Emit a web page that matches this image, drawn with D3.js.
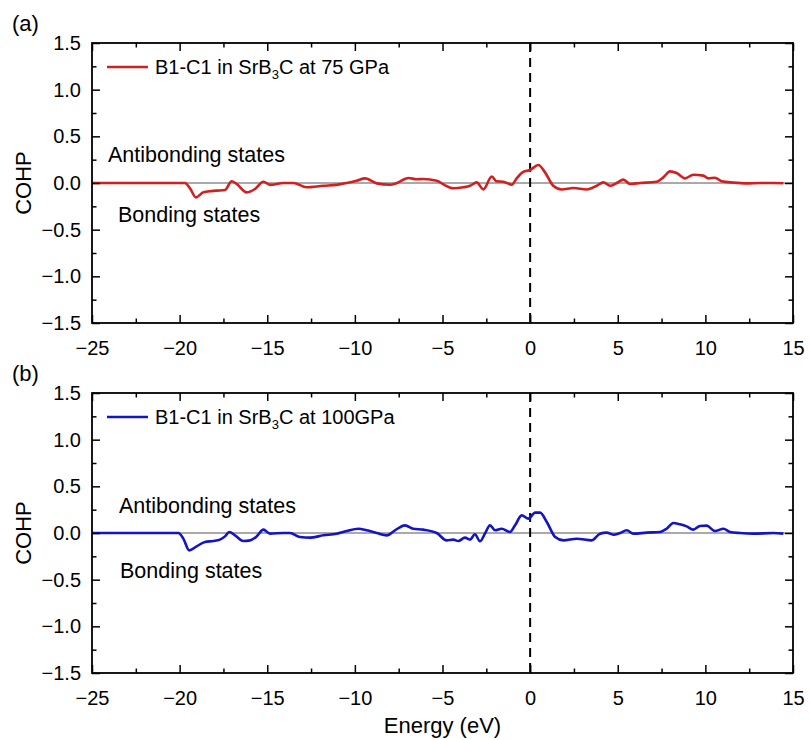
<!DOCTYPE html>
<html>
<head>
<meta charset="utf-8">
<script src="https://cdn.jsdelivr.net/npm/d3@7"></script>
<style>
  body { margin: 0; background: #fff; }
  svg { display: block; font-family: "Liberation Sans", Arial, sans-serif; }
</style>
</head>
<body>
<svg id="chart" width="810" height="740"></svg>
<script>
// ---- Data ----
const energy75 = [-25, -19.7, -19.4, -19.07, -18.65, -17.9, -17.41, -17.03, -16.75, -16.17, -15.7, -15.22, -14.84, -14.08, -13.51, -12.75, -11.8, -11.04, -10.47, -9.9, -9.42, -8.75, -8.0, -7.6, -6.95, -6.47, -6.1, -5.33, -4.9, -4.38, -3.81, -3.43, -3.05, -2.67, -2.19, -1.91, -1.53, -1.05, -0.77, -0.39, 0.0, 0.47, 0.85, 1.32, 1.80, 2.47, 3.23, 3.80, 4.18, 4.56, 4.94, 5.32, 5.70, 6.27, 7.22, 7.60, 7.98, 8.36, 8.84, 9.31, 9.88, 10.17, 10.55, 10.93, 11.6, 12.36, 13.12, 13.88, 14.45];
const cohp75   = [0, 0, -0.06, -0.154, -0.10, -0.082, -0.075, 0.018, -0.01, -0.10, -0.064, 0.014, -0.02, 0, 0, -0.046, -0.03, -0.02, 0, 0.025, 0.05, -0.004, -0.018, 0, 0.054, 0.04, 0.043, 0.025, -0.02, -0.057, -0.046, -0.03, 0.007, -0.068, 0.07, 0.018, 0.014, -0.018, 0.05, 0.12, 0.14, 0.193, 0.114, -0.03, -0.07, -0.054, -0.07, -0.03, 0.007, -0.03, 0, 0.036, -0.01, 0, 0.014, 0.06, 0.125, 0.107, 0.05, 0.089, 0.079, 0.05, 0.057, 0.018, 0.004, -0.004, 0, 0, -0.003];

const energy100 = [-25, -20.07, -19.79, -19.45, -19.03, -18.55, -18.08, -17.70, -17.41, -17.17, -16.84, -16.37, -15.98, -15.6, -15.22, -14.84, -14.08, -13.7, -13.13, -12.56, -11.8, -11.04, -10.47, -9.80, -9.33, -8.75, -8.18, -7.71, -7.14, -6.67, -6.1, -5.33, -4.76, -4.38, -4.10, -3.72, -3.43, -3.15, -2.86, -2.58, -2.29, -2.0, -1.62, -1.15, -0.86, -0.48, -0.10, 0.29, 0.57, 0.95, 1.43, 1.90, 2.66, 3.52, 3.99, 4.37, 4.75, 5.13, 5.51, 5.89, 6.65, 7.41, 7.79, 8.17, 8.55, 8.93, 9.31, 9.69, 10.07, 10.55, 11.03, 11.41, 11.98, 12.74, 13.88, 14.45];
const cohp100   = [0, 0, -0.06, -0.186, -0.143, -0.096, -0.086, -0.071, -0.036, 0.011, -0.025, -0.086, -0.079, -0.036, 0.036, -0.007, 0, 0, -0.043, -0.05, -0.025, -0.007, 0.021, 0.046, 0.029, 0, -0.025, 0.029, 0.082, 0.046, 0.036, 0, -0.079, -0.071, -0.086, -0.05, -0.071, -0.014, -0.089, -0.007, 0.082, 0.029, 0.046, 0.011, 0.082, 0.189, 0.154, 0.218, 0.218, 0.118, -0.043, -0.079, -0.061, -0.079, -0.007, 0.004, -0.018, 0, 0.029, -0.007, 0.004, 0.011, 0.046, 0.107, 0.093, 0.071, 0.036, 0.075, 0.079, 0.021, 0.046, 0.011, 0, -0.007, 0, -0.007];

const xTicks = [-25, -20, -15, -10, -5, 0, 5, 10, 15];
const xMinorTicks = [-22.5, -17.5, -12.5, -7.5, -2.5, 2.5, 7.5, 12.5];
const yTicks = [-1.5, -1.0, -0.5, 0.0, 0.5, 1.0, 1.5];
const yMinorTicks = [-1.25, -0.75, -0.25, 0.25, 0.75, 1.25];

const panels = [
  { tag: "(a)", top: 43, energy: energy75, cohp: cohp75, color: "#d21f1f",
    legendMain: "B1-C1 in SrB", legendSub: "3", legendTail: "C at 75 GPa",
    antiY: 162, antiX: 108, bondY: 222, bondX: 118 },
  { tag: "(b)", top: 393, energy: energy100, cohp: cohp100, color: "#1414c4",
    legendMain: "B1-C1 in SrB", legendSub: "3", legendTail: "C at 100GPa",
    antiY: 513, antiX: 119, bondY: 578, bondX: 120 }
];

const svg = d3.select("#chart");
const left = 92, right = 793, ph = 280;
const x = d3.scaleLinear().domain([-25, 15]).range([left, right]);

panels.forEach((p, i) => {
  const y = d3.scaleLinear().domain([-1.5, 1.5]).range([p.top + ph, p.top]);
  const g = svg.append("g");

  // zero line
  g.append("line").attr("x1", left).attr("x2", right)
    .attr("y1", y(0)).attr("y2", y(0))
    .attr("stroke", "#555").attr("stroke-width", 1);

  // dashed Fermi line
  g.append("line").attr("x1", x(0)).attr("x2", x(0))
    .attr("y1", p.top).attr("y2", p.top + ph)
    .attr("stroke", "#000").attr("stroke-width", 2)
    .attr("stroke-dasharray", "9,6");

  // curve
  const line = d3.line().x(d => x(d[0])).y(d => y(d[1])).curve(d3.curveMonotoneX);
  g.append("path").datum(p.energy.map((e, k) => [e, p.cohp[k]]))
    .attr("d", line).attr("fill", "none")
    .attr("stroke", p.color).attr("stroke-width", 2.6).attr("stroke-linejoin", "round");

  // axes
  const styleAxis = sel => {
    sel.select(".domain").remove();
    sel.selectAll(".tick line").attr("stroke", "#000").attr("stroke-width", 1.5);
    sel.selectAll("text").attr("font-size", 20).attr("fill", "#000")
      .attr("font-family", "'Liberation Sans', Arial, sans-serif");
  };
  const fmtY = d3.format(".1f");
  g.append("g").attr("transform", `translate(0,${p.top + ph})`)
    .call(d3.axisBottom(x).tickValues(xTicks).tickSize(-8).tickPadding(18).tickFormat(d3.format("d")))
    .call(styleAxis);
  g.append("g").attr("transform", `translate(0,${p.top + ph})`)
    .call(d3.axisBottom(x).tickValues(xMinorTicks).tickSize(-4.5).tickFormat(""))
    .call(styleAxis);
  g.append("g").attr("transform", `translate(0,${p.top})`)
    .call(d3.axisTop(x).tickValues(xTicks).tickSize(-8).tickFormat(""))
    .call(styleAxis);
  g.append("g").attr("transform", `translate(0,${p.top})`)
    .call(d3.axisTop(x).tickValues(xMinorTicks).tickSize(-4.5).tickFormat(""))
    .call(styleAxis);
  g.append("g").attr("transform", `translate(${left},0)`)
    .call(d3.axisLeft(y).tickValues(yTicks).tickSize(-8).tickPadding(11).tickFormat(fmtY))
    .call(styleAxis);
  g.append("g").attr("transform", `translate(${left},0)`)
    .call(d3.axisLeft(y).tickValues(yMinorTicks).tickSize(-4.5).tickFormat(""))
    .call(styleAxis);
  g.append("g").attr("transform", `translate(${right},0)`)
    .call(d3.axisRight(y).tickValues(yTicks).tickSize(-8).tickFormat(""))
    .call(styleAxis);
  g.append("g").attr("transform", `translate(${right},0)`)
    .call(d3.axisRight(y).tickValues(yMinorTicks).tickSize(-4.5).tickFormat(""))
    .call(styleAxis);

  // frame
  g.append("rect").attr("x", left).attr("y", p.top)
    .attr("width", right - left).attr("height", ph)
    .attr("fill", "none").attr("stroke", "#000").attr("stroke-width", 1.8);

  // panel tag
  g.append("text").attr("x", 12).attr("y", p.top - 12)
    .attr("font-size", 22).text(p.tag);

  // y title
  g.append("text").attr("transform", `translate(31,${y(0)}) rotate(-90)`)
    .attr("text-anchor", "middle").attr("font-size", 22).text("COHP");

  // legend
  const ly = p.top + 24;
  g.append("line").attr("x1", 107).attr("x2", 148).attr("y1", ly).attr("y2", ly)
    .attr("stroke", p.color).attr("stroke-width", 2.6);
  const lt = g.append("text").attr("x", 155).attr("y", ly + 7).attr("font-size", 20);
  lt.append("tspan").text(p.legendMain);
  lt.append("tspan").attr("font-size", 13).attr("dy", 5).text(p.legendSub);
  lt.append("tspan").attr("dy", -5).text(p.legendTail);

  // annotations
  g.append("text").attr("x", p.antiX).attr("y", p.antiY).attr("font-size", 21.5).text("Antibonding states");
  g.append("text").attr("x", p.bondX).attr("y", p.bondY).attr("font-size", 21.5).text("Bonding states");
});

// x title
svg.append("text").attr("x", (left + right) / 2).attr("y", 733)
  .attr("text-anchor", "middle").attr("font-size", 22).text("Energy (eV)");
</script>
</body>
</html>
